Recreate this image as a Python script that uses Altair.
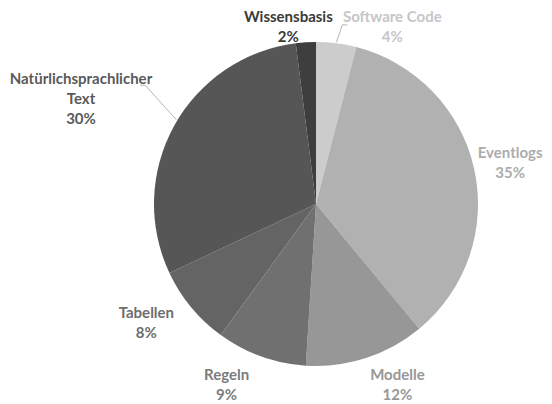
import altair as alt
import pandas as pd

categories = ["Software Code", "Eventlogs", "Modelle", "Regeln", "Tabellen",
              "Natürlichsprachlicher Text", "Wissensbasis"]
shares = [4, 35, 12, 9, 8, 30, 2]
label_names = ["Software Code", "Eventlogs", "Modelle", "Regeln", "Tabellen",
               "Natürlichsprachlicher\nText", "Wissensbasis"]
slice_colors = ["#cccccc", "#b1b1b1", "#979797", "#707070", "#646464", "#565656", "#3e3e3e"]
text_colors = ["#c6c6c6", "#acacac", "#979797", "#7c7c7c", "#6e6e6e", "#5a5a5a", "#3a3a3a"]

df = pd.DataFrame({
    "cat": categories,
    "v": shares,
    "idx": list(range(len(categories))),
    "label": [f"{n}\n{v}%" for n, v in zip(label_names, shares)],
})

W, H = 400, 380
CX, CY = W / 2, H / 2
R = 162
LR = 202
# label nudges away from the radial anchor (pixels), in slice order
nudge_x = [51, -3, 19, -21, -14, -58, -15]
nudge_y = [13, -7, -21, -19, -20, -28, 15]

color_scale = alt.Scale(domain=categories, range=slice_colors)
tcolor_scale = alt.Scale(domain=categories, range=text_colors)
xs = alt.Scale(domain=[0, W], range=[0, W])
ys = alt.Scale(domain=[0, H], range=[0, H])

base = alt.Chart(df)

arcs = base.mark_arc(radius=R, strokeWidth=0).encode(
    theta=alt.Theta("v:Q", stack=True),
    color=alt.Color("cat:N", scale=color_scale, legend=None),
    order=alt.Order("idx:Q"),
)

geo = base.transform_joinaggregate(total="sum(v)").transform_window(
    cum="sum(v)", sort=[alt.SortField("idx")], frame=[None, 0]
).transform_calculate(
    mid="(datum.cum - datum.v/2)/datum.total*2*PI"
)

def pos(r, extra=0):
    return (f"{CX} + {r}*sin(datum.mid + {extra})", f"{CY} - {r}*cos(datum.mid + {extra})")

lx, ly = pos(LR)
labels = geo.transform_calculate(
    lx=f"{lx} + {nudge_x}[datum.idx]",
    ly=f"{ly} + {nudge_y}[datum.idx]",
).mark_text(
    font="Lato", fontWeight="bold", fontSize=15, lineBreak="\n",
    lineHeight=20, align="center", baseline="middle",
).encode(
    x=alt.X("lx:Q", scale=xs, axis=None),
    y=alt.Y("ly:Q", scale=ys, axis=None),
    text="label:N",
    color=alt.Color("cat:N", scale=tcolor_scale, legend=None),
)

# leader lines
LC = "#b5b5b5"
sx0, sy0 = pos(R + 1)
sx1, sy1 = pos(181, 0.02)
sw_lead = geo.transform_filter("datum.cat == 'Software Code'").transform_calculate(
    x0=sx0, y0=sy0, x1=sx1, y1=sy1, x2="datum.x1 + 5"
)
sw_r1 = sw_lead.mark_rule(color=LC, strokeWidth=1).encode(
    x=alt.X("x0:Q", scale=xs, axis=None), y=alt.Y("y0:Q", scale=ys, axis=None),
    x2="x1:Q", y2="y1:Q")
sw_r2 = sw_lead.mark_rule(color=LC, strokeWidth=1).encode(
    x=alt.X("x1:Q", scale=xs, axis=None), y=alt.Y("y1:Q", scale=ys, axis=None),
    x2="x2:Q", y2="y1:Q")

nx0, ny0 = pos(R + 1, 0.04)
nx1, ny1 = pos(208, 0.105)
nt_lead = geo.transform_filter("datum.cat == 'Natürlichsprachlicher Text'").transform_calculate(
    x0=nx0, y0=ny0, x1=nx1, y1=ny1, x2="datum.x1 - 5"
)
nt_r1 = nt_lead.mark_rule(color=LC, strokeWidth=1).encode(
    x=alt.X("x0:Q", scale=xs, axis=None), y=alt.Y("y0:Q", scale=ys, axis=None),
    x2="x1:Q", y2="y1:Q")
nt_r2 = nt_lead.mark_rule(color=LC, strokeWidth=1).encode(
    x=alt.X("x1:Q", scale=xs, axis=None), y=alt.Y("y1:Q", scale=ys, axis=None),
    x2="x2:Q", y2="y1:Q")

chart = alt.layer(
    arcs, sw_r1, sw_r2, nt_r1, nt_r2, labels
).resolve_scale(color="independent").properties(
    width=W, height=H,
    padding={"left": 108, "top": 6, "right": 28, "bottom": 10},
    autosize=alt.AutoSizeParams(type="none"),
    background="white",
).configure_view(strokeWidth=0, stroke="transparent")

chart.save("out.html", embed_options={"renderer": "svg", "actions": False})
